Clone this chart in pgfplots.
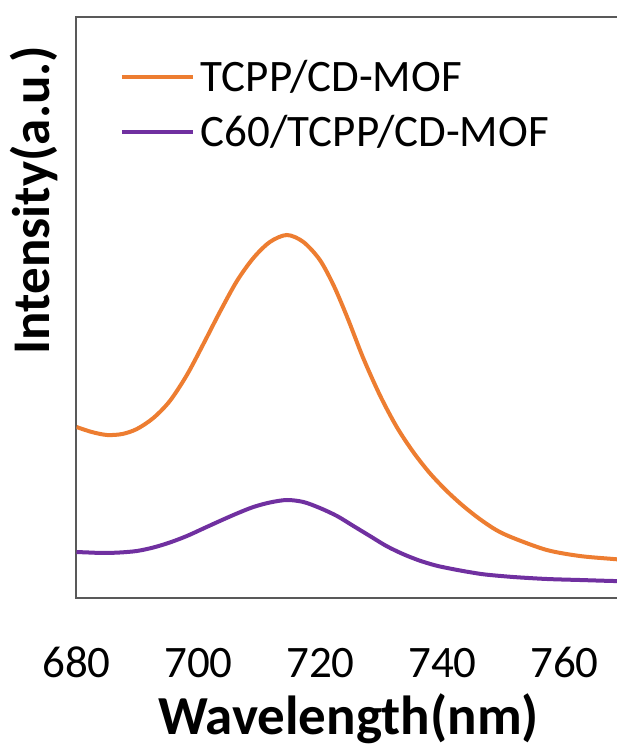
\documentclass[border=0pt]{standalone}
\usepackage{fontspec}
\setmainfont{Carlito}
\usepackage{pgfplots}
\pgfplotsset{compat=1.18}
\definecolor{orng}{HTML}{ED7D31}
\definecolor{purp}{HTML}{7030A0}
\definecolor{axc}{HTML}{595959}
\begin{document}
\begin{tikzpicture}[x=1pt,y=1pt]
\useasboundingbox (0,0) rectangle (617,749);
\clip (0,0) rectangle (617,749);
\begin{axis}[
  at={(76.5pt,151pt)}, anchor=south west,
  scale only axis, width=549pt, height=581pt,
  xmin=680, xmax=770, ymin=0, ymax=581,
  xtick={680,700,720,740,760}, ytick=\empty,
  major tick length=0pt,
  axis line style={axc, line width=2pt},
  tick label style={font=\fontsize{45}{54}\selectfont},
  /pgf/number format/assume math mode=true,
  /pgf/number format/1000 sep={},
  xticklabel style={anchor=base, yshift=-79pt},
  xlabel={Wavelength(nm)},
  xlabel style={font=\fontsize{55}{66}\selectfont\bfseries, at={(axis description cs:0.4954,-0.2358)}, anchor=base},
  ylabel={Intensity(a.u.)},
  ylabel style={font=\fontsize{53}{64}\selectfont\bfseries, at={(axis description cs:-0.0483,0.685)}, anchor=base},
  legend style={at={(axis description cs:0.0792,0.926)}, anchor=north west, draw=none, fill=none,
    font=\fontsize{45}{54}\selectfont, inner sep=0pt, outer sep=0pt, row sep=13pt, column sep=6pt,
    cells={anchor=base west},
    nodes={inner sep=0pt, text height=32pt, text depth=10pt}},
  legend image code/.code={\draw[#1, line width=4pt] (0pt,15pt) -- (71pt,15pt);},
]
\addplot[orng, line width=4pt, smooth] coordinates {
(680,171) (682.5,166) (685,163) (687.5,164) (689.9,169) (692.6,180) (695.3,197) (698.1,223)
(700.8,254) (703.5,286) (706.3,317) (709.0,340) (711.7,356) (714.5,363) (717.2,356) (719.9,338)
(722.2,312) (724.5,279) (727.0,240) (729.8,202) (732.5,171) (735.2,146) (737.9,125) (740.7,107)
(743.4,92) (746.1,79) (748.8,68) (751.6,60) (757.1,48) (762.5,42) (768,39) (770,38)};
\addlegendentry{TCPP/CD-MOF}
\addplot[purp, line width=4pt, smooth] coordinates {
(680,46) (682,45.5) (684.4,45) (687.1,45.5) (689.9,47) (692.6,50.5) (695.3,55.5) (698.1,62)
(700.8,69.5) (703.5,77) (706.3,84.5) (709.0,91) (711.7,95.5) (714.5,98) (717.2,96) (719.9,90)
(722.7,82) (725.4,72) (728.1,62) (730.8,52) (733.5,44) (736.2,37.5) (738.9,32.5) (741.6,29)
(744.3,26) (747,23.5) (751.6,21) (757.1,19) (762.5,18) (768,17) (770,17)};
\addlegendentry{C60/TCPP/CD-MOF}
\end{axis}
\end{tikzpicture}
\end{document}
